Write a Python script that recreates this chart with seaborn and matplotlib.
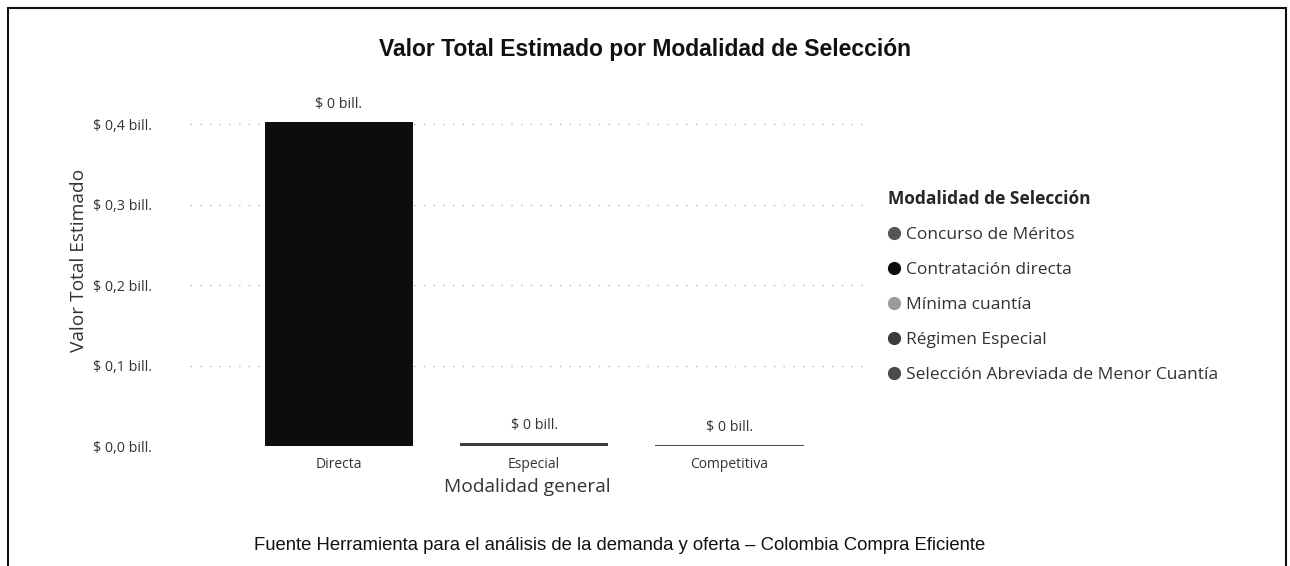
import matplotlib
matplotlib.use("Agg")
import matplotlib.pyplot as plt
from matplotlib.lines import Line2D
from matplotlib.patches import Rectangle
from matplotlib.ticker import FuncFormatter
import numpy as np
import seaborn as sns

# data (values in billions of pesos)
modalidad_general = ["Directa", "Especial", "Competitiva"]
modalidades = ["Concurso de Méritos", "Contratación directa", "Mínima cuantía",
               "Régimen Especial", "Selección Abreviada de Menor Cuantía"]
# stack order (bottom -> top) and values per general category
stack_series = ["Contratación directa", "Régimen Especial", "Mínima cuantía",
                "Selección Abreviada de Menor Cuantía", "Concurso de Méritos"]
stack_values = {
    "Contratación directa": [0.403, 0.0, 0.0],
    "Régimen Especial": [0.0, 0.004, 0.0],
    "Mínima cuantía": [0.0, 0.0, 0.0006],
    "Selección Abreviada de Menor Cuantía": [0.0, 0.0, 0.0004],
    "Concurso de Méritos": [0.0, 0.0, 0.0002],
}
colors = {
    "Concurso de Méritos": "#555555",
    "Contratación directa": "#0d0d0d",
    "Mínima cuantía": "#9a9a9a",
    "Régimen Especial": "#3c3c3c",
    "Selección Abreviada de Menor Cuantía": "#4a4a4a",
}
y_ticks = [0.0, 0.1, 0.2, 0.3, 0.4]

sns.set_theme(style="white")
label_font = ["Open Sans", "DejaVu Sans"]

fig = plt.figure(figsize=(12.9, 5.66), dpi=100)
ax = fig.add_axes([0.147, 0.212, 0.524, 0.597])

# stacked bars: draw cumulative totals from top to bottom
cum = np.cumsum([stack_values[s] for s in stack_series], axis=0)
for i in range(len(stack_series) - 1, -1, -1):
    sns.barplot(x=modalidad_general, y=cum[i], color=colors[stack_series[i]],
                width=0.76, saturation=1, ax=ax, zorder=3, linewidth=0)

totals = cum[-1]
for i, t in enumerate(totals):
    ax.annotate(f"$ {t:.0f} bill.", (i, t), xytext=(0, 7), textcoords="offset points",
                ha="center", va="bottom", fontsize=10.3, color="#333333", family=label_font)

ax.set_xlim(-0.764, 2.697)
ax.set_ylim(0, 0.42)
ax.set_yticks(y_ticks)
ax.yaxis.set_major_formatter(FuncFormatter(lambda v, p: f"$ {v:.1f} bill.".replace(".", ",", 1)))
for s in ax.spines.values():
    s.set_visible(False)
ax.grid(axis="y", linestyle=(0, (1, 6)), color="#b8b8b8", linewidth=1)
ax.grid(axis="x", visible=False)
ax.yaxis.get_gridlines()[0].set_visible(False)
ax.set_axisbelow(True)
ax.tick_params(axis="y", length=0, labelsize=10.3, labelcolor="#333333", pad=27)
ax.tick_params(axis="x", length=0, labelsize=10, labelcolor="#333333", pad=8)
for lab in ax.get_yticklabels() + ax.get_xticklabels():
    lab.set_family(label_font)
ax.set_xlabel("Modalidad general", fontsize=13.8, color="#333333", family=label_font, labelpad=4)
ax.set_ylabel("Valor Total Estimado", fontsize=13.8, color="#333333", family=label_font)
ax.yaxis.set_label_coords(-0.15, 0.55, transform=ax.transAxes)

fig.text(0.5, 0.913, "Valor Total Estimado por Modalidad de Selección", ha="center", va="center",
         fontsize=16.5, fontweight="bold", family="Liberation Sans", color="#111111")
fig.text(0.48, 0.037, "Fuente Herramienta para el análisis de la demanda y oferta – Colombia Compra Eficiente",
         ha="center", va="center", fontsize=13.3, family="Liberation Sans", color="#111111")

handles = [Line2D([], [], marker="o", linestyle="", markersize=8.5, color=colors[m]) for m in modalidades]
leg = fig.legend(handles, modalidades, title="Modalidad de Selección", loc="upper left",
                 bbox_to_anchor=(0.688, 0.665), frameon=False, handlelength=0.8, handletextpad=0.25,
                 labelspacing=1.09, prop={"family": label_font, "size": 12.5},
                 title_fontproperties={"family": label_font, "size": 12.5, "weight": "bold"},
                 alignment="left", borderaxespad=0, borderpad=0)
for t in leg.get_texts():
    t.set_color("#333333")

# scanned page frame
fig.add_artist(Rectangle((8 / 1290, -0.02), 1278 / 1290, 1 - 8 / 566 + 0.02, transform=fig.transFigure,
                         fill=False, edgecolor="#111111", linewidth=1.5))

fig.savefig("out.png", dpi=100)
